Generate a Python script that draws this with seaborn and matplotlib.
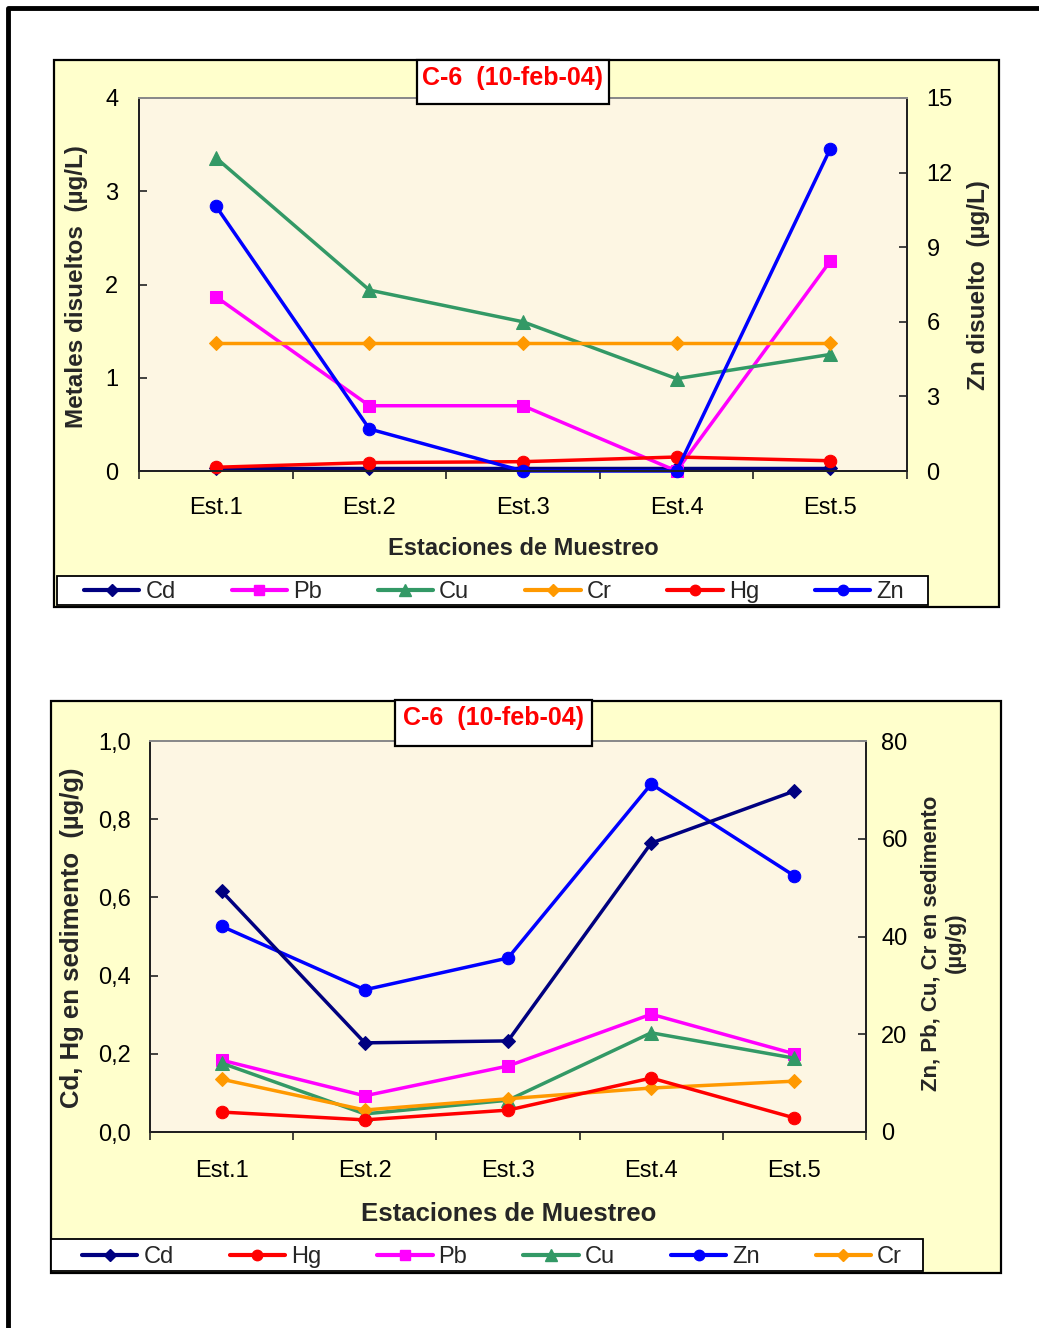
import matplotlib
matplotlib.use("Agg")
import matplotlib.pyplot as plt
import seaborn as sns
import numpy as np
import pandas as pd
from matplotlib.patches import Rectangle
from matplotlib.lines import Line2D
from matplotlib.ticker import FixedLocator, FuncFormatter

# ---------------- data ----------------
estaciones = ["Est.1", "Est.2", "Est.3", "Est.4", "Est.5"]

# top chart: dissolved metals (µg/L)
agua_cd = [0.03, 0.03, 0.03, 0.03, 0.03]
agua_pb = [1.87, 0.70, 0.70, 0.00, 2.25]
agua_cu = [3.36, 1.94, 1.60, 0.99, 1.25]
agua_cr = [1.37, 1.37, 1.37, 1.37, 1.37]
agua_hg = [0.04, 0.09, 0.10, 0.15, 0.11]
agua_zn = [10.66, 1.69, 0.0, 0.0, 12.95]   # right axis

# bottom chart: sediment (µg/g)
sed_cd = [0.616, 0.228, 0.233, 0.739, 0.872]  # left axis
sed_hg = [0.051, 0.031, 0.056, 0.138, 0.036]  # left axis
sed_pb = [14.7, 7.4, 13.5, 24.1, 16.0]        # right axis
sed_cu = [14.1, 3.7, 6.5, 20.3, 15.1]
sed_zn = [42.1, 29.1, 35.6, 71.2, 52.4]
sed_cr = [10.8, 4.5, 6.8, 9.0, 10.4]

titulo = "C-6  (10-feb-04)"

# ---------------- style ----------------
sns.set_theme(style="white")
plt.rcParams["font.family"] = ["Liberation Sans", "DejaVu Sans"]

W, H = 1039, 1328
fig = plt.figure(figsize=(W / 100, H / 100), dpi=100)
fig.patch.set_facecolor("white")

COL = {"Cd": "#000080", "Pb": "#FF00FF", "Cu": "#339966", "Cr": "#FF9900",
       "Hg": "#FF0000", "Zn": "#0000FF"}
MRK = {"Cd": "D", "Pb": "s", "Cu": "^", "Cr": "D", "Hg": "o", "Zn": "o"}
MSZ = {"Cd": 7.5, "Pb": 9, "Cu": 10, "Cr": 7.5, "Hg": 9, "Zn": 9}
PLOT_BG = "#FDF6E3"
AREA_BG = "#FFFFCC"


def rect_px(x0, y0, x1, y1):
    return [x0 / W, 1 - y1 / H, (x1 - x0) / W, (y1 - y0) / H]


def fx(x):
    return x / W


def fy(y):
    return 1 - y / H


# outer frame
fig.add_artist(Line2D([fx(8), fx(8), fx(1039)], [fy(1328), fy(8), fy(8)],
                      transform=fig.transFigure, color="black", lw=3.5))


def box_px(x0, y0, x1, y1, fc, lw=1.6, z=0):
    fig.add_artist(Rectangle((fx(x0), fy(y1)), (x1 - x0) / W, (y1 - y0) / H,
                             transform=fig.transFigure, facecolor=fc,
                             edgecolor="black", lw=lw, zorder=z))


def draw_series(ax, name, vals):
    df = pd.DataFrame({"x": np.arange(len(estaciones)), "y": vals})
    sns.lineplot(data=df, x="x", y="y", ax=ax, color=COL[name], marker=MRK[name],
                 markersize=MSZ[name], markeredgecolor=COL[name], linewidth=2.5,
                 legend=False)


def style_axes(ax, ax2, ymax_l, yticks_l, ymax_r, yticks_r, fmt_l, fmt_r,
               padl, padr, xpad):
    ax.set_facecolor(PLOT_BG)
    ax.set_xlim(-0.5, 4.5)
    ax.set_ylim(0, ymax_l)
    ax2.set_ylim(0, ymax_r)
    ax.xaxis.set_major_locator(FixedLocator(np.arange(-0.5, 5.0, 1.0)))
    ax.xaxis.set_minor_locator(FixedLocator(np.arange(0, 5)))
    ax.xaxis.set_major_formatter(FuncFormatter(lambda v, p: ""))
    ax.xaxis.set_minor_formatter(FuncFormatter(lambda v, p: estaciones[int(round(v))]))
    ax.tick_params(axis="x", which="major", direction="out", length=6, width=1.2,
                   color="#222222", bottom=True)
    ax.tick_params(axis="x", which="minor", length=0, pad=xpad, labelsize=17,
                   labelcolor="black", bottom=True)
    ax.set_yticks(yticks_l)
    ax.yaxis.set_major_formatter(FuncFormatter(fmt_l))
    ax.tick_params(axis="y", direction="in", length=6, width=1.2, color="#222222",
                   left=True, pad=padl, labelsize=17, labelcolor="black")
    ax2.set_yticks(yticks_r)
    ax2.yaxis.set_major_formatter(FuncFormatter(fmt_r))
    ax2.tick_params(axis="y", direction="in", length=6, width=1.2, color="#222222",
                    right=True, pad=padr, labelsize=17, labelcolor="black")
    ax.set_xlabel("")
    ax.set_ylabel("")
    ax2.set_ylabel("")
    ax.grid(False)
    ax2.grid(False)
    for a in (ax, ax2):
        for s in ("left", "bottom", "right"):
            a.spines[s].set_color("#222222")
            a.spines[s].set_linewidth(1.4)
        a.spines["top"].set_color("#8a8a8a")
        a.spines["top"].set_linewidth(1.4)


def title_box(x0, y0, x1, y1, ty):
    box_px(x0, y0, x1, y1, "white", lw=1.6, z=9)
    fig.text(fx((x0 + x1) / 2), fy(ty), titulo, ha="center", va="center",
             fontsize=18, fontweight="bold", color="#FF0000", zorder=10)


def legend_box(names, x0, y0, x1, y1, cx):
    box_px(x0, y0, x1, y1, "white", lw=1.3, z=1)
    handles = [Line2D([], [], color=COL[n], marker=MRK[n], markersize=MSZ[n] - 1.5,
                      lw=3, markeredgecolor=COL[n]) for n in names]
    fig.legend(handles, names, loc="center", ncol=6,
               bbox_to_anchor=(fx(cx), fy((y0 + y1) / 2 + 2)),
               bbox_transform=fig.transFigure, frameon=False,
               fontsize=17, handlelength=2.35, handletextpad=0.25,
               borderaxespad=0.0, borderpad=0.0, columnspacing=2.37)


# ================= TOP CHART =================
box_px(54, 60, 999, 607, AREA_BG)
ax1 = fig.add_axes(rect_px(139, 98, 907, 471))
ax1r = ax1.twinx()
for n, v in [("Cd", agua_cd), ("Pb", agua_pb), ("Cu", agua_cu),
             ("Cr", agua_cr), ("Hg", agua_hg)]:
    draw_series(ax1, n, v)
draw_series(ax1r, "Zn", agua_zn)
style_axes(ax1, ax1r, 4, [0, 1, 2, 3, 4], 15, [0, 3, 6, 9, 12, 15],
           lambda v, p: f"{v:.0f}", lambda v, p: f"{v:.0f}", 15, 14, 18.5)
for a in (ax1, ax1r):
    for ln in a.get_lines():
        ln.set_clip_on(False)
fig.text(fx(77), fy(287), "Metales disueltos  (µg/L)", rotation=90, ha="center",
         va="center", fontsize=17.5, fontweight="bold")
fig.text(fx(978), fy(285), "Zn disuelto  (µg/L)", rotation=90, ha="center",
         va="center", fontsize=17.5, fontweight="bold")
fig.text(fx(523), fy(549), "Estaciones de Muestreo", ha="center", va="center",
         fontsize=17, fontweight="bold")
title_box(417, 60, 609, 104, 78)
legend_box(["Cd", "Pb", "Cu", "Cr", "Hg", "Zn"], 57, 576, 928, 605, 494)

# ================= BOTTOM CHART =================
box_px(51, 701, 1001, 1273, AREA_BG)
ax2 = fig.add_axes(rect_px(150, 741, 866, 1132))
ax2r = ax2.twinx()
for n, v in [("Pb", sed_pb), ("Cu", sed_cu), ("Cr", sed_cr), ("Zn", sed_zn)]:
    draw_series(ax2r, n, v)
ax2r.set_zorder(ax2.get_zorder() + 1)
ax2r.patch.set_visible(False)
ax2top = fig.add_axes(rect_px(150, 741, 866, 1132), sharex=ax2, sharey=ax2)
ax2top.set_zorder(ax2r.get_zorder() + 1)
ax2top.patch.set_visible(False)
for n, v in [("Cd", sed_cd), ("Hg", sed_hg)]:
    draw_series(ax2top, n, v)
ax2top.axis("off")
style_axes(ax2, ax2r, 1.0, [0, 0.2, 0.4, 0.6, 0.8, 1.0], 80, [0, 20, 40, 60, 80],
           lambda v, p: f"{v:.1f}".replace(".", ","), lambda v, p: f"{v:.0f}", 14, 11, 20)
for a in (ax2, ax2r, ax2top):
    for ln in a.get_lines():
        ln.set_clip_on(False)
fig.text(fx(72), fy(938), "Cd, Hg en sedimento  (µg/g)", rotation=90, ha="center",
         va="center", fontsize=18.5, fontweight="bold")
fig.text(fx(943), fy(943), "Zn, Pb, Cu, Cr en sedimento\n(µg/g)", rotation=90,
         ha="center", va="center", fontsize=16, fontweight="bold", linespacing=1.25)
fig.text(fx(509), fy(1214), "Estaciones de Muestreo", ha="center", va="center",
         fontsize=18.5, fontweight="bold")
title_box(395, 700, 592, 746, 718)
legend_box(["Cd", "Hg", "Pb", "Cu", "Zn", "Cr"], 51, 1239, 923, 1271, 492)

fig.savefig("out.png", dpi=100)
